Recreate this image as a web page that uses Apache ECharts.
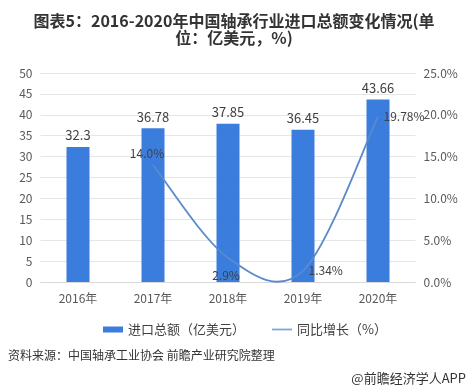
<!DOCTYPE html>
<html><head><meta charset="utf-8">
<script src="https://cdn.jsdelivr.net/npm/echarts@6/dist/echarts.min.js"></script>
<style>html,body{margin:0;padding:0;background:#fff}#c{width:468px;height:391px}</style>
</head><body><div id="c"></div>
<script>
var categories = ['2016年','2017年','2018年','2019年','2020年'];
var importTotal = [32.3, 36.78, 37.85, 36.45, 43.66];
var growth = [null, 14.0, 2.9, 1.34, 19.78];
var growthLabels = ['', '14.0%', '2.9%', '1.34%', '19.78%'];
var leftTicks = [0, 50, 5];
var rightTicks = [0, 25, 5];

var labelPos = [
  null,
  {position:'top', offset:[-6,0]},
  {position:'bottom', offset:[-2,6]},
  {position:'right', offset:[0,0]},
  {position:'right', offset:[0,0]}
];
var lineColor = '#5A8ACB';
var font = '"Noto Sans CJK SC", "Noto Sans", sans-serif';
var chart = echarts.init(document.getElementById('c'));

function curveItem(params, api){
  var i = params.dataIndex;
  if (i >= growth.length - 1 || growth[i] == null || growth[i+1] == null) return null;
  function P(k){ return api.coord([k, growth[k]]); }
  var p0 = P(i), p1 = P(i+1);
  var prev = (i-1 >= 0 && growth[i-1] != null) ? P(i-1) : p0;
  var next = (i+2 < growth.length && growth[i+2] != null) ? P(i+2) : p1;
  return {
    type:'bezierCurve',
    shape:{
      x1:p0[0], y1:p0[1], x2:p1[0], y2:p1[1],
      cpx1:p0[0] + (p1[0]-prev[0])/6, cpy1:p0[1] + (p1[1]-prev[1])/6,
      cpx2:p1[0] - (next[0]-p0[0])/6, cpy2:p1[1] - (next[1]-p0[1])/6
    },
    style:{stroke:lineColor, lineWidth:1.8, fill:null}
  };
}

chart.setOption({
  animation:false,
  textStyle:{fontFamily:font},
  legend:{
    top:318, left:98, itemWidth:20, itemHeight:6, itemGap:27,
    textStyle:{fontSize:13, color:'#404040', fontFamily:font},
    data:[
      {name:'进口总额（亿美元）', icon:'rect'},
      {name:'同比增长（%）', icon:'path://M0,0H20V1.8H0Z', itemStyle:{color:'#7BA7DD', opacity:1}}
    ]
  },
  grid:{left:40.5, right:52.5, top:73, bottom:109},
  xAxis:{
    type:'category', data:categories,
    axisLine:{lineStyle:{color:'#d9d9d9'}}, axisTick:{show:false},
    axisLabel:{fontSize:12, color:'#595959', margin:10, fontFamily:font}
  },
  yAxis:[
    {type:'value', min:leftTicks[0], max:leftTicks[1], interval:leftTicks[2],
     axisLabel:{fontSize:12, color:'#595959', margin:8, fontFamily:font},
     splitLine:{lineStyle:{color:'#e6e6e6'}}, axisLine:{show:false}, axisTick:{show:false}},
    {type:'value', min:rightTicks[0], max:rightTicks[1], interval:rightTicks[2],
     axisLabel:{fontSize:12, color:'#595959', margin:8, fontFamily:font,
       formatter:function(v){return v.toFixed(1)+'%';}},
     splitLine:{show:false}, axisLine:{show:false}, axisTick:{show:false}}
  ],
  series:[
    {name:'进口总额（亿美元）', type:'bar', data:importTotal, barWidth:23,
     itemStyle:{color:'#3B7DDD'},
     label:{show:true, position:'top', distance:5, fontSize:13, color:'#404040', fontFamily:font}},
    {name:'同比增长（%）', type:'line', yAxisIndex:1, symbol:'circle', symbolSize:1, showSymbol:true,
     lineStyle:{color:'transparent', width:0.01}, itemStyle:{color:'transparent', borderWidth:0},
     data:growth.map(function(v,i){
       if(v===null) return null;
       var p = labelPos[i];
       return {value:v, label:{show:true, position:p.position, offset:p.offset, distance:5,
         formatter:growthLabels[i], fontSize:12, color:'#404040', fontFamily:font}};
     }), z:5},
    {name:'growthCurve', type:'custom', yAxisIndex:1, coordinateSystem:'cartesian2d',
     encode:{x:0, y:1}, renderItem:curveItem, z:4, silent:true,
     data:growth.map(function(v,i){ return [i, v == null ? '-' : v]; })}
  ],
  graphic:[
    {type:'text', x:234, y:12, style:{text:'图表5：2016-2020年中国轴承行业进口总额变化情况(单\n位：亿美元，%)',
      textAlign:'center', fontSize:16, fontWeight:'bold', fill:'#333', lineHeight:17, fontFamily:font}},
    {type:'text', left:8, top:349, style:{text:'资料来源：中国轴承工业协会 前瞻产业研究院整理', fontSize:12, fill:'#333', fontFamily:font}},
    {type:'text', right:2, top:372, style:{text:'@前瞻经济学人APP', fontSize:13, fill:'#333', fontFamily:font}}
  ]
});
</script></body></html>
